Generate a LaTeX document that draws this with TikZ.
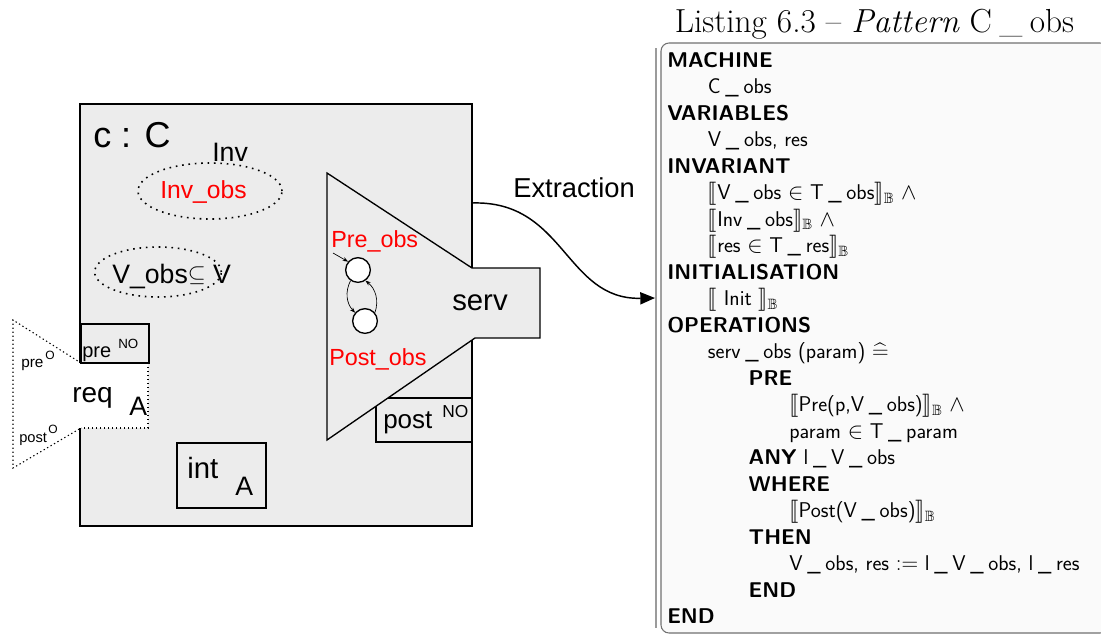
\documentclass[tikz,border=0pt]{standalone}
\usepackage{fontspec}
\usepackage{amssymb,stmaryrd}
\usetikzlibrary{
  positioning,
  arrows.meta,
  shapes.geometric
}
\newfontfamily\diagfont{Liberation Sans}
\definecolor{compfill}{HTML}{ECECEC}
\definecolor{obsred}{HTML}{FF0000}
\definecolor{lstback}{HTML}{FAFAFA}
\definecolor{lstrule}{HTML}{707070}
\newcommand{\fs}[1]{\fontsize{#1}{#1}\selectfont}
\newcommand{\df}[1]{\diagfont\fs{#1}}
\newcommand{\us}{\kern0.22em\_\kern0.22em}
\newcommand{\kw}[1]{\textbf{#1}}
\newcommand{\semB}[1]{$\llbracket$#1$\rrbracket_{\mathbb{B}}$}

\begin{document}
\begin{tikzpicture}[
  x=0.75pt, y=-0.75pt,
  lbl/.style={inner sep=0pt, anchor=base west},
  part/.style={draw, line width=1pt, fill=compfill},
  portdot/.style={line width=0.8pt, dash pattern=on 1pt off 2pt},
  obsell/.style={ellipse, draw, line width=1.2pt, dash pattern=on 1.2pt off 3.6pt, inner sep=0pt},
  st/.style={circle, draw, line width=1pt, fill=white, minimum size=18.5pt, inner sep=0pt},
  smallarr/.style={-{Stealth[length=4pt,width=3pt]}, line width=0.5pt},
  extr/.style={-{Triangle[length=11pt,width=9pt]}, line width=1.1pt},
  lstline/.style={inner sep=0pt, anchor=base west, font=\sffamily\fs{16}}
]
  \useasboundingbox (0,0) rectangle (1101,636);

  % component c : C
  \draw[part] (80,104) rectangle (472,526);
  \fill[white] (78,363) rectangle (148,428);
  \draw[portdot] (81,363) -- (13,320) -- (13,468) -- (81,428);
  \draw[portdot] (148,363) -- (148,428) -- (81,428);
  \draw[part] (81,324) rectangle (149,363);
  \draw[part] (177,443) rectangle (266,508);
  \draw[part] (376,398) rectangle (472,442);
  \draw[part] (327,173) -- (472,268) -- (540,268) -- (540,338) -- (475,338) -- (327,440) -- cycle;

  \node[lbl, font=\df{27}] (cname) at (93,147) {c : C};

  % invariants
  \node[obsell, minimum width=108pt, minimum height=42pt] (invell) at (210,191) {};
  \node[lbl, font=\df{20}] (inv) at (212,161) {Inv};
  \node[lbl, font=\df{18.5}, text=obsred] (invobs) at (160,198) {Inv\_obs};
  \node[obsell, minimum width=95pt, minimum height=37.5pt] (vell) at (158,272) {};
  \node[lbl, font=\df{20}] (vobs) at (112,283) {V\_obs\raisebox{1.5pt}{\fs{16}$\subseteq$} V};

  % ports
  \node[lbl, font=\df{15}] (prebox) at (82,357) {pre};
  \node[lbl, font=\df{10}] (prebno) at (118,348) {NO};
  \node[lbl, font=\df{21}] (req) at (72,402) {req};
  \node[lbl, font=\df{20}] (reqa) at (129,415) {A};
  \node[lbl, font=\df{11.5}] (preo) at (21,367) {pre};
  \node[lbl, font=\df{9}] (preosup) at (45,359) {O};
  \node[lbl, font=\df{11}] (posto) at (19,442) {post};
  \node[lbl, font=\df{9}] (postosup) at (48,433) {O};
  \node[lbl, font=\df{22}] (int) at (187,478) {int};
  \node[lbl, font=\df{20}] (inta) at (235,495) {A};
  \node[lbl, font=\df{22}] (serv) at (452,310) {serv};
  \node[lbl, font=\df{19.5}] (postbox) at (383,428) {post};
  \node[lbl, font=\df{13}] (postbno) at (442,417) {NO};

  % behaviour of serv
  \node[st] (st1) at (358,270) {};
  \node[st] (st2) at (365,321) {};
  \coordinate (init) at (333,253);
  \draw[smallarr] (init) -- (st1.140);
  \draw[smallarr] (st1.235) to[bend right=35] (st2.140);
  \draw[smallarr] (st2.40) to[bend right=35] (st1.-55);
  \node[lbl, font=\df{17.5}, text=obsred] (preobs) at (331,247) {Pre\_obs};
  \node[lbl, font=\df{17.5}, text=obsred] (postobs) at (329,365) {Post\_obs};

  % extraction
  \coordinate (servOut) at (472,203);
  \coordinate (lstIn) at (655,298);
  \draw[extr] (servOut) .. controls (565,200) and (565,300) .. (lstIn);
  \node[lbl, font=\df{20.5}] (extraction) at (513,197) {Extraction};

  % listing
  \node[inner sep=0pt, anchor=base, font=\fs{25}] (lsttitle) at (874.5,32)
    {Listing 6.3 -- \textit{Pattern} C\us obs};
  \draw[lstrule, line width=0.8pt, fill=lstback, rounded corners=6pt] (661,43) rectangle (1108,633);
  \draw[lstrule!70, line width=0.8pt] (656,48) -- (656,628);
  \foreach \lvl/\txt [count=\n] in {
    0/\kw{MACHINE},
    1/C\us obs,
    0/\kw{VARIABLES},
    1/{V\us obs, res},
    0/\kw{INVARIANT},
    1/{\semB{V\us obs $\in$ T\us obs} $\wedge$},
    1/{\semB{Inv\us obs} $\wedge$},
    1/{\semB{res $\in$ T\us res}},
    0/\kw{INITIALISATION},
    1/{\semB{ Init }},
    0/\kw{OPERATIONS},
    1/{serv\us obs (param) \smash{$\widehat{=}$}},
    2/\kw{PRE},
    3/{\semB{Pre(p,V\us obs)} $\wedge$},
    3/{param $\in$ T\us param},
    2/{\kw{ANY} l\us V\us obs},
    2/\kw{WHERE},
    3/{\semB{Post(V\us obs)}},
    2/\kw{THEN},
    3/{V\us obs, res $:=$ l\us V\us obs, l\us res},
    2/\kw{END},
    0/\kw{END}}
    \node[lstline] (ln\n) at ({667+40.7*\lvl},{67+26.52*(\n-1)}) {\txt};
\end{tikzpicture}
\end{document}
